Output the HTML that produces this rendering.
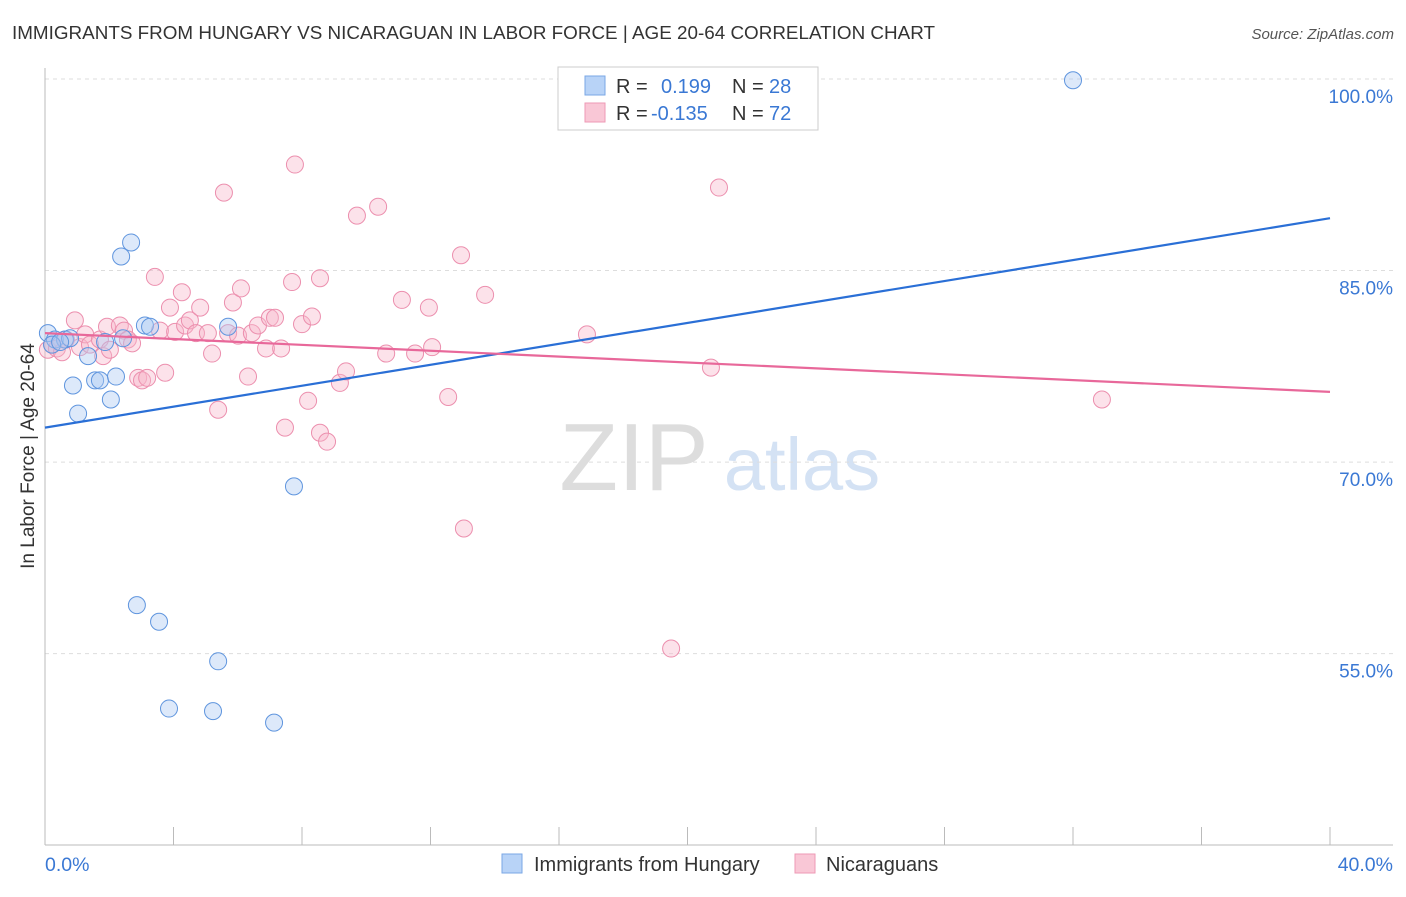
<!DOCTYPE html>
<html><head><meta charset="utf-8"><style>
body{margin:0;background:#fff;font-family:"Liberation Sans",sans-serif}
svg text{font-family:"Liberation Sans",sans-serif}
</style></head><body>
<svg id="c" width="1406" height="892" xmlns="http://www.w3.org/2000/svg">
<text x="12" y="39" font-size="18" fill="#333" textLength="923" lengthAdjust="spacingAndGlyphs">IMMIGRANTS FROM HUNGARY VS NICARAGUAN IN LABOR FORCE | AGE 20-64 CORRELATION CHART</text>
<text x="1394" y="39" font-size="15" fill="#555" font-style="italic" text-anchor="end">Source: ZipAtlas.com</text>
<text transform="translate(34,456) rotate(-90)" font-size="19" fill="#333" text-anchor="middle">In Labor Force | Age 20-64</text>
<g><text x="634" y="490" font-size="96" fill="#ddd" font-family="Liberation Serif" text-anchor="middle">ZIP</text><text x="802" y="490" font-size="74" fill="#d4e2f4" text-anchor="middle">atlas</text></g>
<g id="grid"></g><g id="marks"></g>
<g>
<rect x="558" y="67" width="260" height="63" fill="#fff" stroke="#ccc"/>
<rect x="585" y="76" width="20" height="19" fill="#b8d3f7" stroke="#7aa7e6"/>
<rect x="585" y="103" width="20" height="19" fill="#f9c7d6" stroke="#ee9ab5"/>
<text x="616" y="93" font-size="20" fill="#333">R =</text><text x="661" y="93" font-size="20" fill="#3a78d4">0.199</text>
<text x="732" y="93" font-size="20" fill="#333">N =</text><text x="769" y="93" font-size="20" fill="#3a78d4">28</text>
<text x="616" y="120" font-size="20" fill="#333">R =</text><text x="651" y="120" font-size="20" fill="#3a78d4">-0.135</text>
<text x="732" y="120" font-size="20" fill="#333">N =</text><text x="769" y="120" font-size="20" fill="#3a78d4">72</text>
</g>
<g>
<rect x="502" y="854" width="20" height="19" fill="#b8d3f7" stroke="#7aa7e6"/>
<text x="534" y="871" font-size="20" fill="#333">Immigrants from Hungary</text>
<rect x="795" y="854" width="20" height="19" fill="#f9c7d6" stroke="#ee9ab5"/>
<text x="826" y="871" font-size="20" fill="#333">Nicaraguans</text>
</g>
<text x="45" y="871" font-size="19.5" fill="#3a78d4">0.0%</text>
<text x="1393" y="871" font-size="19.5" fill="#3a78d4" text-anchor="end">40.0%</text>
</svg>
<script>
const blueX=[0.09,0.31,0.62,0.78,0.87,1.03,1.34,1.56,1.71,1.87,2.05,2.21,2.37,2.43,2.68,2.86,3.11,3.27,3.55,3.86,5.23,5.39,5.70,7.13,7.75,32.0,0.22,0.47];
const blueY=[80.1,79.6,79.6,79.7,76.0,73.8,78.3,76.4,76.4,79.4,74.9,76.7,86.1,79.7,87.2,58.8,80.7,80.6,57.5,50.7,50.5,54.4,80.6,49.6,68.1,99.9,79.2,79.4];
const pinkX=[0.09,0.22,0.37,0.53,0.65,0.93,1.09,1.25,1.40,1.71,1.81,1.93,2.02,2.33,2.46,2.58,2.71,2.90,3.02,3.18,3.42,3.58,3.74,3.89,4.05,4.26,4.36,4.51,4.70,4.83,5.07,5.20,5.39,5.57,5.70,5.85,6.01,6.10,6.32,6.44,6.63,6.88,7.00,7.16,7.35,7.47,7.69,7.78,8.00,8.19,8.31,8.56,8.56,8.78,9.18,9.37,9.71,10.37,10.62,11.11,11.52,11.95,12.05,12.55,12.95,13.04,13.70,16.87,19.49,20.73,20.98,32.90];
const pinkY=[78.8,79.2,78.9,78.6,79.6,81.1,79.0,80.0,79.2,79.6,78.3,80.6,78.8,80.7,80.3,79.6,79.3,76.6,76.4,76.6,84.5,80.3,77.0,82.1,80.2,83.3,80.7,81.1,80.1,82.1,80.1,78.5,74.1,91.1,80.1,82.5,79.9,83.6,76.7,80.1,80.7,78.9,81.3,81.3,78.9,72.7,84.1,93.3,80.8,74.8,81.4,84.4,72.3,71.6,76.2,77.1,89.3,90.0,78.5,82.7,78.5,82.1,79.0,75.1,86.2,64.8,83.1,80.0,55.4,77.4,91.5,74.9];
const blueTrend=[72.7,89.1];
const pinkTrend=[80.1,75.5];
const yTicks=[100,85,70,55];
const yTickLabels=["100.0%","85.0%","70.0%","55.0%"];
const xTicks=[0,4,8,12,16,20,24,28,32,36,40];
const NS="http://www.w3.org/2000/svg";
const sx=v=>45+v/40*1285;
const sy=v=>79+(100-v)*12.77;
const grid=document.getElementById('grid'),marks=document.getElementById('marks');
function mk(t,a,p){const e=document.createElementNS(NS,t);for(const k in a)e.setAttribute(k,a[k]);p.appendChild(e);return e;}
yTicks.forEach((v,i)=>{
 const l=mk('line',{x1:45,x2:1393,y1:sy(v),y2:sy(v),stroke:'#ddd','stroke-dasharray':'4,4'},grid);
 
 
 const t=mk('text',{x:1393,y:sy(v)+24,'font-size':19,fill:'#3a78d4','text-anchor':'end'},grid);
 t.textContent=yTickLabels[i];
 
 
});
const ax=mk('line',{x1:45,x2:1393,y1:845,y2:845,stroke:'#bbb'},grid);


const ay=mk('line',{x1:45,x2:45,y1:68,y2:845,stroke:'#bbb'},grid);


xTicks.forEach(v=>{
 const l=mk('line',{x1:sx(v),x2:sx(v),y1:827,y2:845,stroke:'#bbb'},grid);
 
 
});
function pts(X,Y,fill,stroke,name){X.forEach((x,i)=>{
 const c=mk('circle',{cx:sx(x),cy:sy(Y[i]),r:8.5,fill:fill,'fill-opacity':0.4,stroke:stroke,'stroke-width':1},marks);
 
 
});}
pts(pinkX,pinkY,'#f7b6ca','#ec8fae','nicaraguan-point');
pts(blueX,blueY,'#a9c8f2','#5f95de','hungary-point');
const bl=mk('line',{x1:sx(0),y1:sy(blueTrend[0]),x2:sx(40),y2:sy(blueTrend[1]),stroke:'#2a6fd6','stroke-width':2.2},marks);


const pl=mk('line',{x1:sx(0),y1:sy(pinkTrend[0]),x2:sx(40),y2:sy(pinkTrend[1]),stroke:'#e8689a','stroke-width':2.2},marks);


</script>
</body></html>
